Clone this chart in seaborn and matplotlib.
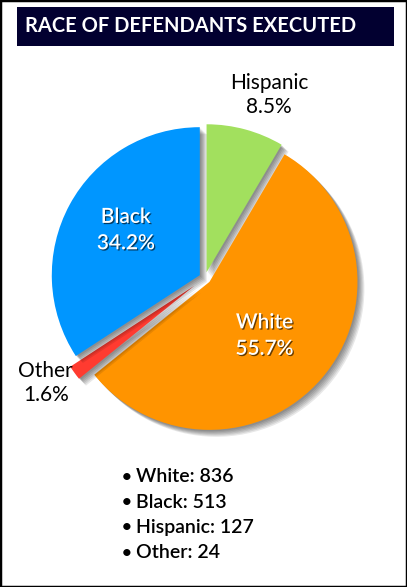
import matplotlib
matplotlib.use("Agg")
import matplotlib.pyplot as plt
import matplotlib.patheffects as pe
from matplotlib.patches import Rectangle
import numpy as np
import seaborn as sns

sns.set_theme(style="white")
plt.rcParams['font.family'] = ['Lato', 'DejaVu Sans']

# ---- data ----
title = "RACE OF DEFENDANTS EXECUTED"
categories = ["Hispanic", "White", "Other", "Black"]
counts = [127, 836, 24, 513]
colors = ["#A2E05E", "#FF9400", "#FF3B30", "#0096FF"]
explode = [0.04, 0.04, 0.09, 0.04]
legend_order = ["White", "Black", "Hispanic", "Other"]

W, H = 407, 587
fig = plt.figure(figsize=(W / 100, H / 100), dpi=100)
fig.patch.set_facecolor("white")

# pie axes: center (205, 278) px, radius 148 px
cx, cy, R = 205, 278, 148
half = 150
ax = fig.add_axes([(cx - half) / W, (H - cy - half) / H, 2 * half / W, 2 * half / H])
ax.set_axis_off()

shadow = [pe.SimplePatchShadow(offset=(o, -o), shadow_rgbFace="black", alpha=0.09)
          for o in (1.0, 1.8, 2.6, 3.4, 4.2, 5.0)] + [pe.Normal()]

wedges, _ = ax.pie(counts, colors=colors, startangle=90, counterclock=False,
                   explode=explode, radius=1.0,
                   wedgeprops=dict(linewidth=0, path_effects=shadow))
lim = half / R
ax.set_xlim(-lim, lim)
ax.set_ylim(-lim, lim)
ax.set_aspect("equal")

total = sum(counts)
pcts = [c / total * 100 for c in counts]

txt_shadow = [pe.SimplePatchShadow(offset=(0.9, -0.9), shadow_rgbFace="black", alpha=0.6), pe.Normal()]

# label placements (distance from centre, angle in degrees) and styles
label_pos = {"Hispanic": (1.31, 70.7), "Other": (1.29, 213.5),
             "Black": (0.625, 148.8), "White": (0.56, -44.0)}
inside = {"Black", "White"}
for name, p in zip(categories, pcts):
    d, a = label_pos[name]
    x, y = d * np.cos(np.radians(a)), d * np.sin(np.radians(a))
    if name in inside:
        ax.text(x, y, f"{name}\n{p:.1f}%", ha="center", va="center", color="white",
                fontsize=15, fontweight="semibold", linespacing=1.4,
                path_effects=txt_shadow)
    else:
        ax.text(x, y, f"{name}\n{p:.1f}%", ha="center", va="center", color="black",
                fontsize=15, linespacing=1.25)

# title box with shadow
tb = fig.add_axes([17 / W, (H - 46) / H, (394 - 17) / W, 39 / H])
tb.set_axis_off()
rect = Rectangle((0, 0), 1, 1, transform=tb.transAxes, facecolor="#020030",
                 edgecolor="none",
                 path_effects=[pe.SimplePatchShadow(offset=(o, -o), shadow_rgbFace="black", alpha=0.1)
                               for o in (1.5, 2.5, 3.5, 4.5, 5.5)] + [pe.Normal()])
tb.add_patch(rect)
tb.text(8 / 377, 0.5, title, transform=tb.transAxes, ha="left", va="center",
        color="white", fontsize=14.5, fontweight="bold")

# bullet list
count_map = dict(zip(categories, counts))
y0, dy = 477, 25.2
for i, name in enumerate(legend_order):
    yy = 1 - (y0 + i * dy) / H
    fig.text(127 / W, yy, "\u2022", ha="center", va="center", fontsize=12,
             fontweight="bold", color="black")
    fig.text(136 / W, yy, f"{name}: {count_map[name]}", ha="left", va="center",
             fontsize=14, fontweight="semibold", color="black")

# outer frame
fig.patches.append(Rectangle((0, 0), 1, 1, transform=fig.transFigure, fill=False,
                             edgecolor="black", linewidth=2.5))

fig.savefig("out.png", dpi=100)
